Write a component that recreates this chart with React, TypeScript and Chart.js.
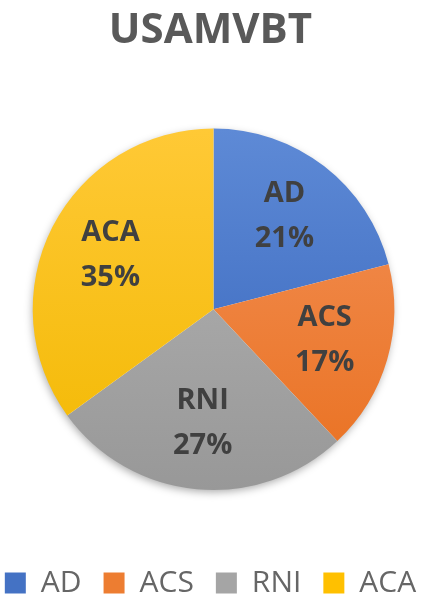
import React, { useEffect, useRef } from 'react';
import { Chart, registerables } from 'chart.js';

Chart.register(...registerables);

const TITLE = 'USAMVBT';
const categories = ['AD', 'ACS', 'RNI', 'ACA'];
const values = [21, 17, 27, 35];

const baseColors = ['#4472C4', '#ED7D31', '#A5A5A5', '#FFC000'];
const topColors = ['#5E8AD6', '#F3925A', '#B5B5B5', '#FFC936'];
const bottomColors = ['#3463BA', '#E9701F', '#989898', '#F2B800'];

const FONT = '"Open Sans", "DejaVu Sans", sans-serif';

const shadowPlugin = {
  id: 'pieShadow',
  beforeDatasetsDraw(chart: any) {
    const meta = chart.getDatasetMeta(0);
    const arc = meta.data[0];
    if (!arc) return;
    const { x, y, outerRadius } = arc.getProps(['x', 'y', 'outerRadius'], true);
    const ctx = chart.ctx;
    ctx.save();
    ctx.shadowColor = 'rgba(0,0,0,0.35)';
    ctx.shadowBlur = 8;
    ctx.shadowOffsetX = -1;
    ctx.shadowOffsetY = 3;
    ctx.fillStyle = '#ffffff';
    ctx.beginPath();
    ctx.arc(x, y, outerRadius - 1, 0, Math.PI * 2);
    ctx.fill();
    ctx.restore();
  },
};

const labelPlugin = {
  id: 'sliceLabels',
  afterDatasetsDraw(chart: any) {
    const meta = chart.getDatasetMeta(0);
    const total = values.reduce((a, b) => a + b, 0);
    const ctx = chart.ctx;
    ctx.save();
    ctx.font = `bold 29px ${FONT}`;
    ctx.fillStyle = '#404040';
    ctx.textAlign = 'center';
    ctx.textBaseline = 'middle';
    meta.data.forEach((arc: any, i: number) => {
      const { x, y, startAngle, endAngle, outerRadius } = arc.getProps(
        ['x', 'y', 'startAngle', 'endAngle', 'outerRadius'],
        true
      );
      const mid = (startAngle + endAngle) / 2;
      const r = outerRadius * 0.64;
      const px = x + Math.cos(mid) * r;
      const py = y + Math.sin(mid) * r;
      ctx.fillText(categories[i], px, py - 24);
      ctx.fillText(Math.round((values[i] / total) * 100) + '%', px, py + 21);
    });
    ctx.restore();
  },
};

export default function App() {
  const canvasRef = useRef<HTMLCanvasElement | null>(null);

  useEffect(() => {
    if (!canvasRef.current) return;
    const chart = new Chart(canvasRef.current, {
      type: 'pie',
      data: {
        labels: categories,
        datasets: [
          {
            data: values,
            borderWidth: 0,
            backgroundColor: (c: any) => {
              const i = c.dataIndex ?? 0;
              const chartObj = c.chart;
              const area = chartObj.chartArea;
              if (!area) return baseColors[i];
              const cy = (area.top + area.bottom) / 2;
              const r = Math.min(area.right - area.left, area.bottom - area.top) / 2;
              const g = chartObj.ctx.createLinearGradient(0, cy - r, 0, cy + r);
              g.addColorStop(0, topColors[i]);
              g.addColorStop(1, bottomColors[i]);
              return g;
            },
          },
        ],
      },
      options: {
        animation: false,
        responsive: true,
        maintainAspectRatio: false,
        devicePixelRatio: 1,
        layout: { padding: { left: -30, right: -24, top: 0, bottom: -12 } },
        plugins: {
          tooltip: { enabled: false },
          title: {
            display: true,
            text: TITLE,
            color: '#595959',
            font: { family: FONT, size: 42, weight: 'bold' },
            padding: { top: 6, bottom: 72 },
          },
          legend: {
            display: true,
            position: 'bottom',
            title: {
              display: true,
              text: '',
              font: { size: 10 },
              padding: { top: 22, bottom: 22 },
            },
            labels: {
              color: '#595959',
              font: { family: FONT, size: 30 },
              boxWidth: 21,
              boxHeight: 21,
              padding: 22,
              generateLabels: () =>
                categories.map((t, i) => ({
                  text: t,
                  fillStyle: baseColors[i],
                  strokeStyle: baseColors[i],
                  lineWidth: 0,
                  hidden: false,
                  index: i,
                  datasetIndex: 0,
                })),
            },
          },
        },
      },
      plugins: [shadowPlugin, labelPlugin],
    } as any);
    return () => chart.destroy();
  }, []);

  return (
    <div style={{ position: 'absolute', left: 0, top: 0, width: 427, height: 596 }}>
      <canvas ref={canvasRef} />
    </div>
  );
}
